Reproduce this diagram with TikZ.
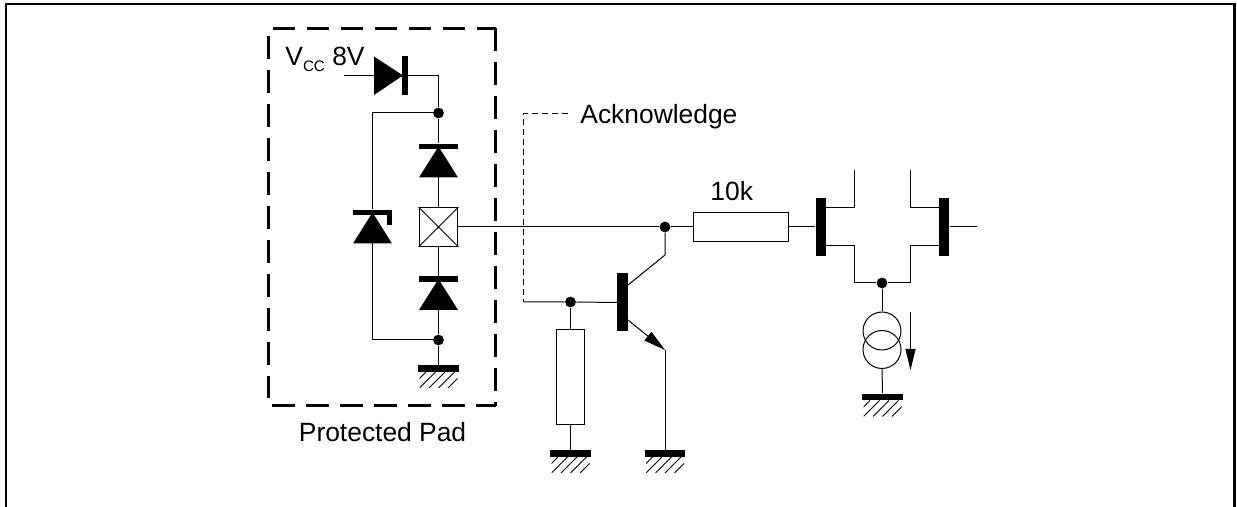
\documentclass[tikz,border=0pt]{standalone}
\usepackage{fontspec}
\setmainfont{Liberation Sans}
\usetikzlibrary{arrows.meta}
\tikzstyle{padCircuit} = [x = .5pt, y = -.5pt, font=\fontsize{13.2}{16}\selectfont]
\tikzstyle{wire} = [color=black, line width=.5pt]
\tikzstyle{frameLine} = [color=black, line width=1.35pt]
\tikzstyle{padBorder} = [color=black, line width=1.5pt, dash pattern=on 11.4pt off 5.6pt]
\tikzstyle{senseLine} = [color=black, line width=.45pt, dash pattern=on 3pt off 2pt]
\tikzstyle{junction} = [circle, fill=black, inner sep=0, minimum size=5.4pt]
\tikzstyle{heavyBar} = [rectangle, fill=black, inner sep=0, minimum width=5.2pt, minimum height=29pt]
\tikzstyle{groundBar} = [rectangle, fill=black, inner sep=0, minimum width=20.4pt, minimum height=3.4pt]
\tikzstyle{resistorV} = [rectangle, draw, line width=.5pt, inner sep=0, minimum width=14.4pt, minimum height=47.5pt]
\tikzstyle{resistorH} = [rectangle, draw, line width=.5pt, inner sep=0, minimum width=47.5pt, minimum height=14.4pt]
\tikzstyle{padBox} = [rectangle, draw, line width=.5pt, inner sep=0, minimum size=19.4pt]
\tikzstyle{sourceRing} = [circle, draw, line width=.5pt, inner sep=0, minimum size=19pt]
\tikzstyle{label} = [inner sep=0, anchor=base west]
\newcommand{\groundMark}[3]{
  \node [groundBar] (#1) at (#2,#3) {};
  \begin{scope}
    \clip (#2 - 19,#3 + 3.5) rectangle +(38,16);
    \foreach \hatch in {-9.5,0,9.5,19,28.5} {
      \draw [wire] (#2 - 19 + \hatch,#3 + 19.5) -- +(16,-16);
    }
  \end{scope}
}
\newcommand{\diodeUp}[3]{
  \node [groundBar, minimum width=19.5pt, minimum height=2.8pt] (#1Bar) at (#2,#3) {};
  \fill (#2,#3) -- (#2 + 19.5,#3 + 31) -- (#2 - 19.5,#3 + 31) -- cycle;
  \coordinate (#1Base) at (#2,#3 + 31);
}
\begin{document}
\begin{tikzpicture}[padCircuit]
  \useasboundingbox (0,0) rectangle (1237,507);
  \draw [frameLine] (6,507) -- (6,4) -- (1234.7,4) -- (1234.7,507);
  \draw [padBorder] (272.5,28.5) -- (495.5,28.5);
  \draw [padBorder] (495,28) -- (495,406);
  \draw [padBorder] (272,406) -- (495.5,406);
  \draw [padBorder] (268,36.5) -- (268,398);
  % protected pad
  \node [padBox] (pad) at (438.5,227) {};
  \draw [wire] (pad.north west) -- (pad.south east) (pad.north east) -- (pad.south west);
  \node [junction] (padTopDot) at (438.5,113) {};
  \node [junction] (padLowDot) at (438.5,340) {};
  \diodeUp{upperDiode}{438.5}{146.5}
  \diodeUp{lowerDiode}{438.5}{279}
  \diodeUp{zener}{372.5}{212.5}
  \fill (387,212.5) rectangle (392,225);
  \coordinate (vccEnd) at (344,75.5);
  \coordinate (vccKnee) at (438.5,75.5);
  \coordinate (topKnee) at (372.5,113);
  \coordinate (lowKnee) at (372.5,340);
  \fill (374,56.5) -- (403,75.5) -- (374,95) -- cycle;
  \node [heavyBar, minimum width=3pt, minimum height=19.2pt] (vccBar) at (405,75.5) {};
  \groundMark{padGround}{438.5}{368.5}
  \draw [wire] (vccEnd) -- (vccBar) (vccBar) -- (vccKnee) -- (padTopDot);
  \draw [wire] (padTopDot) -- (upperDiodeBar);
  \draw [wire] (upperDiodeBase) -- (pad.north);
  \draw [wire] (pad.south) -- (lowerDiodeBar);
  \draw [wire] (lowerDiodeBase) -- (padLowDot) -- (padGround.north);
  \draw [wire] (padTopDot) -- (topKnee) -- (zenerBar);
  \draw [wire] (zenerBase) -- (lowKnee) -- (padLowDot);
  \node [label] (vccLabel) at (285,66) {V\raisebox{-2.8pt}{\fontsize{7.6}{8}\selectfont CC} 8V};
  \node [label] (padLabel) at (298.5,442) {Protected Pad};
  % acknowledge transistor
  \node [junction] (inputDot) at (665,227) {};
  \node [junction] (baseDot) at (570.5,302) {};
  \node [heavyBar] (bipolarBar) at (622.5,302.5) {};
  \node [resistorV] (pullDown) at (570.5,377.5) {};
  \coordinate (senseEnd) at (568,113.5);
  \coordinate (senseKnee) at (523.5,113.5);
  \coordinate (senseLow) at (523.5,302);
  \coordinate (collectorOut) at (628,285);
  \coordinate (collectorKnee) at (665,255);
  \coordinate (emitterOut) at (628,320);
  \coordinate (emitterKnee) at (665,350);
  \groundMark{pullGround}{570.5}{453.5}
  \groundMark{emitterGround}{665}{453.5}
  \draw [senseLine] (senseEnd) -- (senseKnee) -- (senseLow);
  \draw [wire] (senseLow) -- (baseDot) -- (bipolarBar);
  \draw [wire] (baseDot) -- (pullDown.north);
  \draw [wire] (pullDown.south) -- (pullGround.north);
  \draw [wire] (collectorOut) -- (collectorKnee) -- (inputDot);
  \draw [wire, -{Triangle[length=11pt,width=5.5pt]}] (emitterOut) -- (emitterKnee);
  \draw [wire] (emitterKnee) -- (emitterGround.north);
  \node [label] (ackLabel) at (580,124) {Acknowledge};
  % differential input stage
  \node [resistorH] (seriesRes) at (740.5,227) {};
  \node [heavyBar] (leftGate) at (821,227) {};
  \node [heavyBar] (rightGate) at (944,227) {};
  \node [junction] (tailDot) at (882,283) {};
  \node [sourceRing] (upperRing) at (882,331) {};
  \node [sourceRing] (lowerRing) at (882,349.5) {};
  \groundMark{tailGround}{882.5}{397}
  \coordinate (leftDrainIn) at (826,208);
  \coordinate (leftDrainKnee) at (854,208);
  \coordinate (leftDrainEnd) at (854,170);
  \coordinate (leftSourceIn) at (826,246);
  \coordinate (leftSourceKnee) at (854,246);
  \coordinate (leftTailKnee) at (854,283);
  \coordinate (rightDrainIn) at (939,208);
  \coordinate (rightDrainKnee) at (910.5,208);
  \coordinate (rightDrainEnd) at (910.5,170);
  \coordinate (rightSourceIn) at (939,246);
  \coordinate (rightSourceKnee) at (910.5,246);
  \coordinate (rightTailKnee) at (910.5,283);
  \coordinate (rightGateEnd) at (977,227);
  \coordinate (flowStart) at (910.5,312);
  \coordinate (flowEnd) at (910.5,370);
  \draw [wire] (pad.east) -- (inputDot) -- (seriesRes.west);
  \draw [wire] (seriesRes.east) -- (leftGate.west);
  \draw [wire] (leftDrainIn) -- (leftDrainKnee) -- (leftDrainEnd);
  \draw [wire] (rightDrainIn) -- (rightDrainKnee) -- (rightDrainEnd);
  \draw [wire] (leftSourceIn) -- (leftSourceKnee) -- (leftTailKnee) -- (tailDot);
  \draw [wire] (rightSourceIn) -- (rightSourceKnee) -- (rightTailKnee) -- (tailDot);
  \draw [wire] (rightGate.east) -- (rightGateEnd);
  \draw [wire] (tailDot) -- (upperRing.north);
  \draw [wire] (lowerRing.south) -- (tailGround.north);
  \draw [wire, -{Triangle[length=10.5pt,width=5pt]}] (flowStart) -- (flowEnd);
  \node [label] (resLabel) at (710,201) {10k};
\end{tikzpicture}
\end{document}
